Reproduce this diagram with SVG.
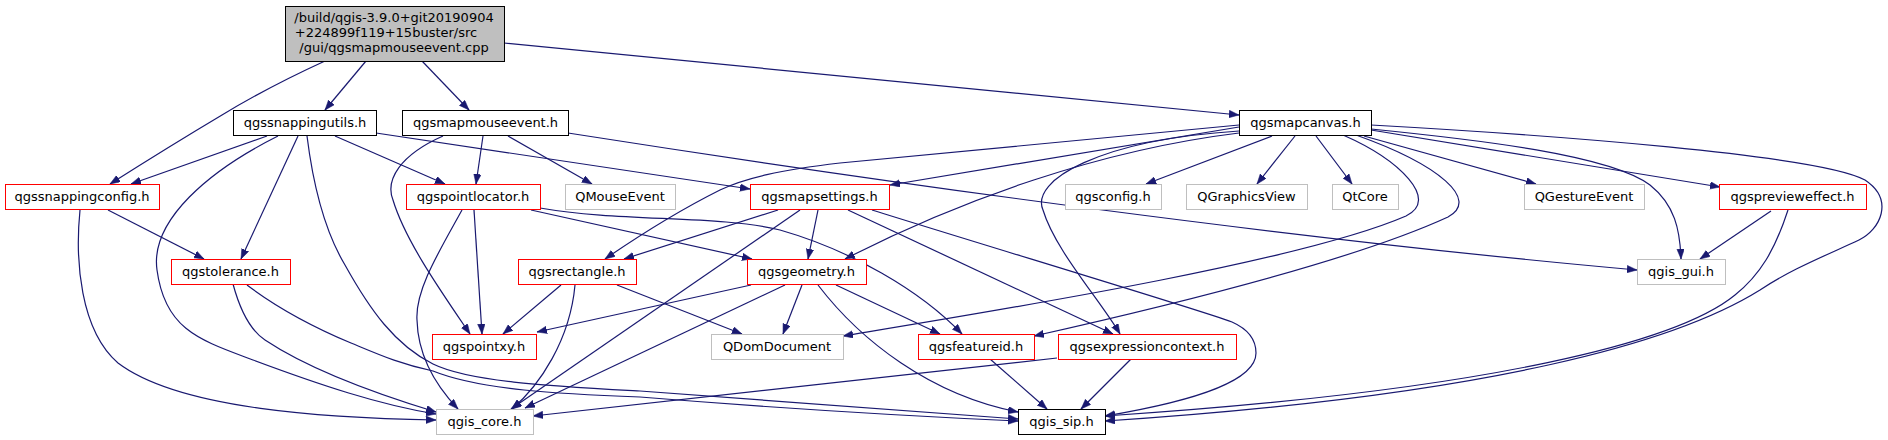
<svg xmlns="http://www.w3.org/2000/svg" width="1888" height="440" viewBox="0 0 1888 440">
<style>
text{font-family:"DejaVu Sans",sans-serif;font-size:13px;fill:#000;text-anchor:middle}
.n rect{fill:#fff;stroke:#000;stroke-width:1}
.r rect{stroke:#ff0000}
.g rect{stroke:#bfbfbf}
.root rect{fill:#bfbfbf;stroke:#000}
#edges path{fill:none;stroke:#191970;stroke-width:1.2;marker-end:url(#arr)}
</style>
<defs>
<marker id="arr" markerUnits="userSpaceOnUse" markerWidth="11" markerHeight="8" refX="10" refY="3.75" orient="auto">
<path d="M0,0 L10,3.75 L0,7.5 z" fill="#191970" stroke="#191970" stroke-width="0.5"/>
</marker>
</defs>
<rect width="1888" height="440" fill="#fff"/>
<g id="edges">
<path d="M366,61 L325,110"/>
<path d="M422,61 L469,110"/>
<path d="M325,61 C290,77 255,95 222,115 C180,140 140,165 110,184"/>
<path d="M504,43 L1239,115"/>
<path d="M267,136 L131,184"/>
<path d="M298,136 L241,259"/>
<path d="M278,136 C210,170 150,220 157,270 C165,330 200,340 253,360 C320,385 380,405 436,414"/>
<path d="M307,136 C315,200 330,240 345,265 C370,310 395,345 433,364 C470,382 550,386 640,391 C800,403 950,413 1018,419"/>
<path d="M335,136 L445,184"/>
<path d="M376,133 L750,189"/>
<path d="M483,136 L476,184"/>
<path d="M508,136 L592,184"/>
<path d="M443,136 C400,155 385,180 393,200 C405,240 440,290 470,334"/>
<path d="M568,133 C900,185 1300,240 1637,270"/>
<path d="M108,210 L204,259"/>
<path d="M80,210 C75,260 80,330 118,363 C180,410 330,418 436,420"/>
<path d="M233,284 C240,310 250,330 265,340 C310,370 380,395 436,412"/>
<path d="M247,285 C280,310 320,330 351,343 C380,355 400,364 433,371 C480,390 560,394 640,397 C800,410 950,418 1018,421"/>
<path d="M474,210 L482,334"/>
<path d="M462,210 C440,250 415,290 417,320 C418,360 440,390 458,409"/>
<path d="M531,210 L752,259"/>
<path d="M540,208 C620,222 720,215 780,230 C850,250 920,290 962,334"/>
<path d="M561,285 L503,334"/>
<path d="M575,285 C570,340 540,385 512,409"/>
<path d="M617,285 L742,334"/>
<path d="M778,210 L624,259"/>
<path d="M800,210 L511,409"/>
<path d="M818,210 L808,259"/>
<path d="M848,210 L1113,334"/>
<path d="M872,210 C1000,250 1200,310 1232,322 C1250,330 1256,342 1256,353 C1256,380 1200,400 1105,416"/>
<path d="M751,285 L537,332"/>
<path d="M785,285 L525,408"/>
<path d="M802,285 L783,334"/>
<path d="M836,285 L940,334"/>
<path d="M818,285 C860,340 930,395 1018,412"/>
<path d="M990,359 L1047,409"/>
<path d="M1131,359 L1081,409"/>
<path d="M1057,358 L533,416"/>
<path d="M1239,127 L890,185"/>
<path d="M1239,125 L840,163 C780,170 745,178 720,190 C680,210 640,235 605,259"/>
<path d="M1239,133 C1100,150 960,200 845,259"/>
<path d="M1239,131 C1100,140 1030,180 1043,210 C1055,250 1100,300 1120,334"/>
<path d="M1272,136 L1146,184"/>
<path d="M1295,136 L1257,184"/>
<path d="M1316,136 L1352,184"/>
<path d="M1364,136 L1536,184"/>
<path d="M1371,130 L1720,187"/>
<path d="M1371,129 C1480,140 1610,155 1650,185 C1675,205 1680,230 1681,259"/>
<path d="M1343,135 C1400,160 1440,200 1406,216 C1300,262 1000,310 843,336"/>
<path d="M1356,135 C1440,165 1480,200 1448,217 C1350,262 1150,310 1034,336"/>
<path d="M1371,125 C1550,135 1820,155 1865,180 C1895,200 1880,230 1859,240 C1820,258 1790,270 1760,290 C1680,340 1500,395 1105,421"/>
<path d="M1771,211 L1700,259"/>
<path d="M1788,210 C1775,250 1760,275 1735,295 C1680,340 1500,390 1105,416"/>
</g>
<g id="n-root" class="n root"><rect x="285.5" y="6.5" width="219" height="55"/><text x="394" y="21.5">/build/qgis-3.9.0+git20190904</text><text x="386" y="36.5">+224899f119+15buster/src</text><text x="394" y="51.5">/gui/qgsmapmouseevent.cpp</text></g>
<g id="n-utils" class="n"><rect x="233.5" y="110.5" width="143" height="25"/><text x="305" y="127">qgssnappingutils.h</text></g>
<g id="n-mapmouseevent" class="n"><rect x="402.5" y="110.5" width="166" height="25"/><text x="485.5" y="127">qgsmapmouseevent.h</text></g>
<g id="n-mapcanvas" class="n"><rect x="1239.5" y="110.5" width="132" height="25"/><text x="1305.5" y="127">qgsmapcanvas.h</text></g>
<g id="n-snappingconfig" class="n r"><rect x="5.5" y="184.5" width="154" height="25"/><text x="82" y="201">qgssnappingconfig.h</text></g>
<g id="n-pointlocator" class="n r"><rect x="406.5" y="184.5" width="134" height="25"/><text x="473" y="201">qgspointlocator.h</text></g>
<g id="n-qmouseevent" class="n g"><rect x="565.5" y="184.5" width="110" height="25"/><text x="620" y="201">QMouseEvent</text></g>
<g id="n-mapsettings" class="n r"><rect x="750.5" y="184.5" width="139" height="25"/><text x="819.5" y="201">qgsmapsettings.h</text></g>
<g id="n-qgsconfig" class="n g"><rect x="1065.5" y="184.5" width="96" height="25"/><text x="1113" y="201">qgsconfig.h</text></g>
<g id="n-qgraphicsview" class="n g"><rect x="1186.5" y="184.5" width="121" height="25"/><text x="1246.5" y="201">QGraphicsView</text></g>
<g id="n-qtcore" class="n g"><rect x="1332.5" y="184.5" width="66" height="25"/><text x="1365" y="201">QtCore</text></g>
<g id="n-qgestureevent" class="n g"><rect x="1524.5" y="184.5" width="120" height="25"/><text x="1584" y="201">QGestureEvent</text></g>
<g id="n-previeweffect" class="n r"><rect x="1719.5" y="184.5" width="147" height="25"/><text x="1792.5" y="201">qgspreview&#101;ffect.h</text></g>
<g id="n-tolerance" class="n r"><rect x="171.5" y="259.5" width="119" height="25"/><text x="230.5" y="276">qgstolerance.h</text></g>
<g id="n-rectangle" class="n r"><rect x="518.5" y="259.5" width="118" height="25"/><text x="577" y="276">qgsrectangle.h</text></g>
<g id="n-geometry" class="n r"><rect x="747.5" y="259.5" width="119" height="25"/><text x="806.5" y="276">qgsgeometry.h</text></g>
<g id="n-qgisgui" class="n g"><rect x="1637.5" y="259.5" width="88" height="25"/><text x="1681" y="276">qgis_gui.h</text></g>
<g id="n-pointxy" class="n r"><rect x="432.5" y="334.5" width="104" height="25"/><text x="484" y="351">qgspointxy.h</text></g>
<g id="n-qdomdocument" class="n g"><rect x="711.5" y="334.5" width="132" height="25"/><text x="777" y="351">QDomDocument</text></g>
<g id="n-featureid" class="n r"><rect x="918.5" y="334.5" width="116" height="25"/><text x="976" y="351">qgsfeatureid.h</text></g>
<g id="n-expressioncontext" class="n r"><rect x="1058.5" y="334.5" width="178" height="25"/><text x="1147" y="351">qgsexpressioncontext.h</text></g>
<g id="n-qgiscore" class="n g"><rect x="436.5" y="409.5" width="97" height="25"/><text x="484.5" y="426">qgis_core.h</text></g>
<g id="n-qgissip" class="n"><rect x="1018.5" y="409.5" width="87" height="25"/><text x="1061.5" y="426">qgis_sip.h</text></g>
</svg>
